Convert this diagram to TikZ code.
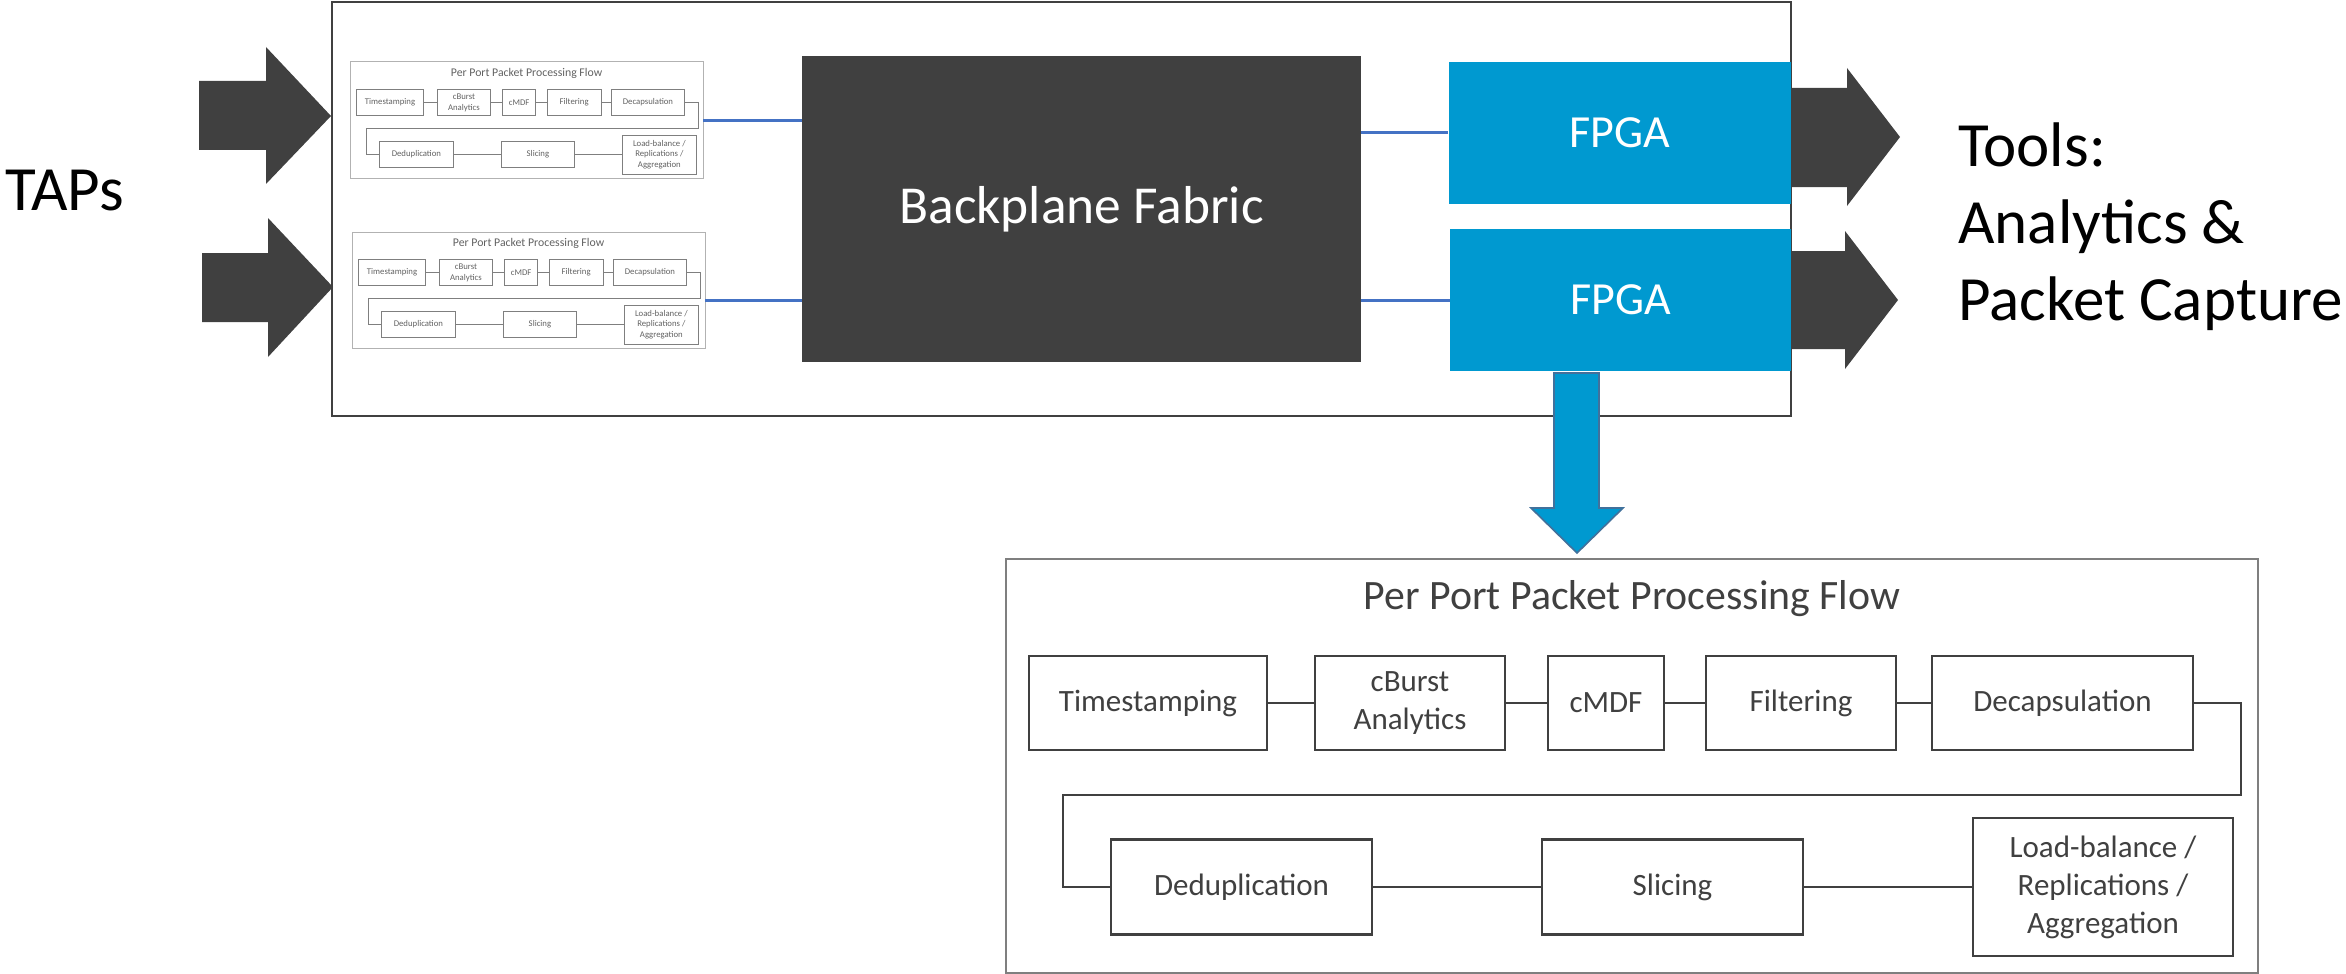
\documentclass[tikz,border=0pt]{standalone}
\usepackage{fontspec}
\setmainfont{Carlito}
\definecolor{dark}{HTML}{404040}
\definecolor{fpga}{HTML}{0099D0}
\definecolor{linkblue}{HTML}{4472C4}
\definecolor{arrowedge}{HTML}{41719C}
\definecolor{framegray}{HTML}{7F7F7F}
\tikzset{
  fstroke/.style={draw=dark, line width=1.3pt},
  ftext/.style={text=dark},
  fframe/.style={draw=framegray, line width=0.9pt},
  flowbox/.style={rectangle, fstroke, ftext, inner sep=0pt, align=center,
    font=\fontsize{15.5pt}{19pt}\selectfont},
  flowtitle/.style={ftext, inner sep=0pt, anchor=base,
    font=\fontsize{20.9pt}{25pt}\selectfont},
  flowframe/.style={rectangle, fframe, inner sep=0pt},
  flowconn/.style={fstroke},
  blueline/.style={draw=linkblue, line width=1.5pt},
  fpgabox/.style={rectangle, fill=fpga, text=white, inner sep=0pt,
    minimum width=171pt, minimum height=71pt,
    font=\fontsize{23pt}{27pt}\selectfont},
  bigtext/.style={anchor=base west, inner sep=0pt, text=black,
    font=\fontsize{31.5pt}{38pt}\selectfont}
}
\newcommand\flowdiagram{%
  \node[flowframe, minimum width=626pt, minimum height=207pt] (frame) at (626,207) {};
  \node[flowtitle] (title) at (626,50) {Per Port Packet Processing Flow};
  \node[flowbox, minimum width=119pt, minimum height=47pt] (ts) at (142,144) {Timestamping};
  \node[flowbox, minimum width=95pt, minimum height=47pt] (cb) at (404,144) {cBurst\\Analytics};
  \node[flowbox, minimum width=58pt, minimum height=47pt] (cm) at (600,144) {cMDF};
  \node[flowbox, minimum width=95pt, minimum height=47pt] (fi) at (795,144) {Filtering};
  \node[flowbox, minimum width=130.5pt, minimum height=47pt] (de) at (1056.5,144) {Decapsulation};
  \node[flowbox, minimum width=130.5pt, minimum height=47.5pt] (dd) at (235.5,328) {Deduplication};
  \node[flowbox, minimum width=130.5pt, minimum height=47.5pt] (sl) at (666.5,328) {Slicing};
  \node[flowbox, minimum width=130pt, minimum height=69pt] (lb) at (1097,328) {Load-balance /\\Replications /\\Aggregation};
  \coordinate (t1) at (1235,236);
  \coordinate (t2) at (57,236);
  \draw[flowconn] (ts) -- (cb);
  \draw[flowconn] (cb) -- (cm);
  \draw[flowconn] (cm) -- (fi);
  \draw[flowconn] (fi) -- (de);
  \draw[flowconn] (de.east) -| (t1) -- (t2) |- (dd.west);
  \draw[flowconn] (dd) -- (sl);
  \draw[flowconn] (sl) -- (lb);
}
\begin{document}
\begin{tikzpicture}[x=0.5pt, y=-0.5pt]
\useasboundingbox (0,0) rectangle (2346,974);
% outer chassis frame
\node[rectangle, draw=dark, line width=1.2pt, inner sep=0pt,
  minimum width=729.5pt, minimum height=207pt] (chassis) at (1061.5,209) {};
% backplane
\node[rectangle, fill=dark, text=white, inner sep=0pt,
  minimum width=279.5pt, minimum height=153pt,
  font=\fontsize{26.7pt}{31pt}\selectfont] (bp) at (1081.5,209) {Backplane Fabric};
% FPGAs
\node[fpgabox] (fp1) at (1619.5,133) {FPGA};
\node[fpgabox, minimum width=170.5pt] (fp2) at (1620.5,300) {FPGA};
% mini flow diagrams
\begin{scope}[shift={(350,62)}, scale=0.282, transform shape, name prefix=m1-,
  fstroke/.style={draw=framegray, line width=0.45pt},
  ftext/.style={text=black!62},
  fframe/.style={draw=black!30, line width=0.5pt}]
  \flowdiagram
\end{scope}
\begin{scope}[shift={(352,232)}, scale=0.282, transform shape, name prefix=m2-,
  fstroke/.style={draw=framegray, line width=0.45pt},
  ftext/.style={text=black!62},
  fframe/.style={draw=black!30, line width=0.5pt}]
  \flowdiagram
\end{scope}
% blue links
\draw[blueline] (m1-frame.east) -- (m1-frame.east -| bp.west);
\draw[blueline] (m2-frame.east |- fp2.west) -- (bp.west |- fp2.west);
\draw[blueline] (bp.east |- fp1.west) -- (fp1.west);
\draw[blueline] (bp.east |- fp2.west) -- (fp2.west);
% input arrows
\fill[dark] (199,81) -- (266,81) -- (266,47) -- (331,116) -- (266,184) -- (266,150) -- (199,150) -- cycle;
\fill[dark] (202,253) -- (268,253) -- (268,218) -- (333,287) -- (268,357) -- (268,322) -- (202,322) -- cycle;
% output arrows
\fill[dark] (1791,88) -- (1847,88) -- (1847,68) -- (1900,137) -- (1847,206) -- (1847,187) -- (1791,187) -- cycle;
\fill[dark] (1791,251) -- (1845,251) -- (1845,231) -- (1898,300) -- (1845,369) -- (1845,349) -- (1791,349) -- cycle;
% labels
\node[bigtext] (taps) at (5,211) {TAPs};
\node[bigtext] (tools1) at (1958,167) {Tools:};
\node[bigtext] (tools2) at (1958,243) {Analytics \&};
\node[bigtext] (tools3) at (1958,320) {Packet Capture};
% detailed flow
\begin{scope}[shift={(1006,559)}, name prefix=big-]
  \flowdiagram
\end{scope}
% down arrow
\filldraw[fill=fpga, draw=arrowedge, line width=0.8pt, line join=miter]
  (1554,373) -- (1599,373) -- (1599,508) -- (1623,508) -- (1577,553) -- (1531,508) -- (1554,508) -- cycle;
\end{tikzpicture}
\end{document}
